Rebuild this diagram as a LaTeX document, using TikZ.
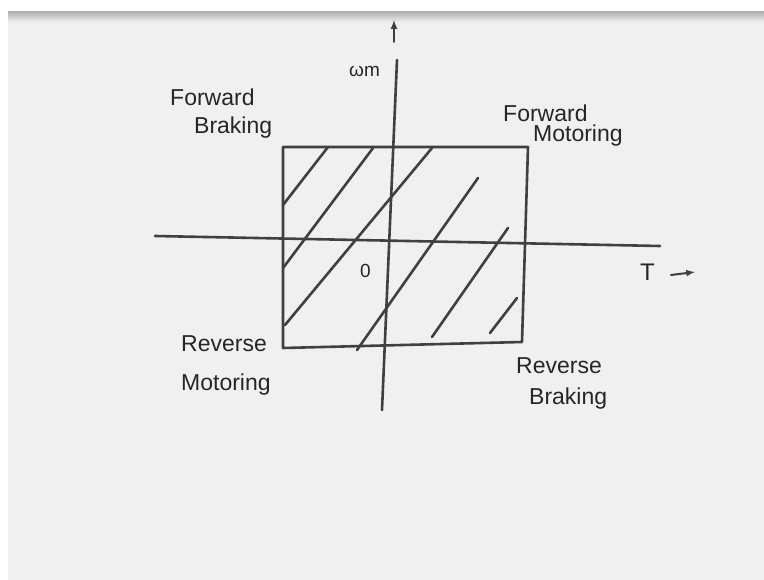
\documentclass[tikz,border=0pt]{standalone}
\usepackage{fontspec}
\setmainfont{Liberation Sans}
\begin{document}
\begin{tikzpicture}[x=1pt, y=-1pt, >=latex]
	\tikzset{pen/.style={line width=2.6pt, draw=black!75, line cap=round, line join=round},
		hand/.style={font=\fontsize{23}{26}\selectfont, text=black!85, inner sep=0pt, anchor=west}}
	\useasboundingbox (0,0) rectangle (764,580);
	\fill[white] (0,0) rectangle (764,580);
	\fill[black!6] (8,12) rectangle (764,580);
	\shade[top color=black!30, bottom color=black!6] (8,12) rectangle (764,22);
	% axes
	\coordinate (wtop) at (397,60);
	\coordinate (wbot) at (382,410);
	\coordinate (tleft) at (155,236);
	\coordinate (tright) at (660,246);
	\draw[pen] (wtop) -- (wbot);
	\draw[pen] (tleft) -- (tright);
	\node[hand, font=\fontsize{19}{22}\selectfont] (wm) at (349,71) {ωm};
	\coordinate (wa1) at (394,42);
	\coordinate (wa2) at (394,20);
	\draw[pen, line width=2pt, ->] (wa1) -- (wa2);
	\node[hand, font=\fontsize{24}{26}\selectfont] (torque) at (640,272) {T};
	\coordinate (ta1) at (671,275);
	\coordinate (ta2) at (695,272);
	\draw[pen, line width=2pt, ->] (ta1) -- (ta2);
	\node[hand, font=\fontsize{19}{22}\selectfont] (orig) at (360,271) {0};
	% operating region
	\draw[pen] (283,147) -- (528,147) -- (522,342) -- (283,348) -- cycle;
	\draw[pen] (283,205) -- (328,147);
	\draw[pen] (283,268) -- (373,148);
	\draw[pen] (285,325) -- (432,148);
	\draw[pen] (357,350) -- (478,178);
	\draw[pen] (432,337) -- (508,228);
	\draw[pen] (490,333) -- (517,298);
	% quadrant names
	\node[hand] (fb1) at (170,97) {Forward};
	\node[hand] (fb2) at (194,128) {Braking};
	\node[hand] (fm1) at (503,113) {Forward};
	\node[hand] (fm2) at (533,136) {Motoring};
	\node[hand] (rm1) at (181,344) {Reverse};
	\node[hand] (rm2) at (181,385) {Motoring};
	\node[hand] (rb1) at (516,366) {Reverse};
	\node[hand] (rb2) at (529,399) {Braking};
\end{tikzpicture}
\end{document}
